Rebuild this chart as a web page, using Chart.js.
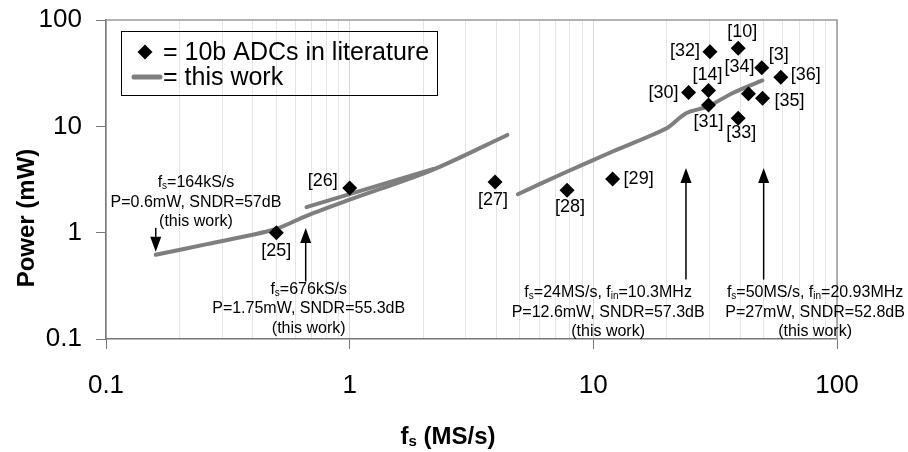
<!DOCTYPE html>
<html>
<head>
<meta charset="utf-8">
<script src="https://cdn.jsdelivr.net/npm/chart.js@4.4.0/dist/chart.umd.min.js"></script>
<style>
  html, body { margin: 0; padding: 0; background: #fff; }
  #wrap { width: 908px; height: 452px; position: relative; }
</style>
</head>
<body>
<div id="wrap"><canvas id="chart" width="908" height="452"></canvas></div>
<script>
// 10b ADCs in literature (fs in MS/s, power in mW)
const litRefs  = ['[25]', '[26]', '[27]', '[28]', '[29]', '[30]', '[14]', '[31]', '[32]', '[10]', '[33]', '[3]', '[34]', '[35]', '[36]'];
const litFs    = [0.5, 1.0, 3.95, 7.8, 12, 24.6, 29.7, 29.7, 30.1, 39.3, 39.3, 49.1, 43.3, 49.5, 58.8];
const litPower = [1.0, 2.63, 3.0, 2.5, 3.2, 20.8, 21.7, 15.9, 50.4, 54.2, 11.9, 35.6, 20.2, 18.4, 29.0];

// this work: three measured sweeps
const sweepA_fs = [0.16, 0.26, 0.49, 0.665, 1.0, 2.19, 4.44];
const sweepA_p  = [0.62, 0.78, 1.07, 1.44, 2.04, 3.9, 8.3];
const sweepB_fs = [0.665, 2.19];
const sweepB_p  = [1.74, 3.96];
const sweepC_fs = [4.9, 7.7, 12, 20, 23, 25, 29.4, 37.2, 49.4];
const sweepC_p  = [2.3, 3.7, 5.8, 9.6, 12.4, 13.8, 15.3, 20.5, 27];

const xTickLabels = ['0.1', '1', '10', '100'];
const yTickLabels = ['0.1', '1', '10', '100'];

// callouts: arrow at fs, from power -> to power, text block anchored at (tx, ty)
const notes = [
  { x: 0.16, from: 1.11, to: 0.66, tx: 0.234, ty: 2.94,
    lines: ['f_{s}=164kS/s', 'P=0.6mW, SNDR=57dB', '(this work)'] },
  { x: 0.66, from: 0.347, to: 1.106, tx: 0.679, ty: 0.292,
    lines: ['f_{s}=676kS/s', 'P=1.75mW, SNDR=55.3dB', '(this work)'] },
  { x: 24, from: 0.362, to: 4.05, tx: 11.5, ty: 0.273,
    lines: ['f_{s}=24MS/s, f_{in}=10.3MHz', 'P=12.6mW, SNDR=57.3dB', '(this work)'] },
  { x: 50, from: 0.362, to: 4.05, tx: 81.3, ty: 0.273,
    lines: ['f_{s}=50MS/s, f_{in}=20.93MHz', 'P=27mW, SNDR=52.8dB', '(this work)'] }
];

// where each reference tag sits relative to its diamond (px)
const tagOffsets = {
  '[25]': [0, 18], '[26]': [-27, -7], '[27]': [-2, 18], '[28]': [3, 17], '[29]': [26, 0],
  '[30]': [-25, 1], '[14]': [-1, -16], '[31]': [0, 17], '[32]': [-25, -1], '[10]': [4, -16],
  '[33]': [3, 15], '[3]': [17, -13], '[34]': [-9, -27], '[35]': [27, 3], '[36]': [25, -2]
};

const FONT = '"Liberation Sans", Arial, sans-serif';
const LINE_GREY = '#7f7f7f';
const AXIS_GREY = '#777777';

const xDecades = xTickLabels.map(Number);
const yDecades = yTickLabels.map(Number);
const xTickVals = [];
xDecades.forEach((d, i) => {
  xTickVals.push(d);
  if (i < xDecades.length - 1) for (let k = 2; k <= 9; k++) xTickVals.push(d * k);
});
const isDecade = v => xDecades.some(d => Math.abs(v - d) < 1e-9);

function pts(xs, ys) { return xs.map((x, i) => ({ x: x, y: ys[i] })); }

// draw text with _{...} subscripts, centred on cx
function richText(ctx, str, cx, cy, size, bold) {
  const parts = [];
  str.split(/(_\{[^}]*\})/).forEach(p => {
    if (!p) return;
    if (p.startsWith('_{')) parts.push({ t: p.slice(2, -1), sub: true });
    else parts.push({ t: p, sub: false });
  });
  const w = bold ? 'bold ' : '';
  const subSize = Math.round(size * 0.62);
  let total = 0;
  parts.forEach(p => {
    ctx.font = w + (p.sub ? subSize : size) + 'px ' + FONT;
    p.w = ctx.measureText(p.t).width;
    total += p.w;
  });
  let x = cx - total / 2;
  ctx.textAlign = 'left';
  ctx.textBaseline = 'middle';
  parts.forEach(p => {
    ctx.font = w + (p.sub ? subSize : size) + 'px ' + FONT;
    ctx.fillText(p.t, x, p.sub ? cy + size * 0.22 : cy);
    x += p.w;
  });
}

function diamond(ctx, x, y, r) {
  ctx.beginPath();
  ctx.moveTo(x, y - r);
  ctx.lineTo(x + r, y);
  ctx.lineTo(x, y + r);
  ctx.lineTo(x - r, y);
  ctx.closePath();
  ctx.fill();
}

const extras = {
  id: 'extras',
  beforeDatasetsDraw(chart) {
    const { ctx, chartArea: a } = chart;
    ctx.save();
    ctx.strokeStyle = '#9a9a9a';
    ctx.lineWidth = 1.5;
    ctx.beginPath();
    ctx.moveTo(a.left, a.top);
    ctx.lineTo(a.right, a.top);
    ctx.lineTo(a.right, a.bottom);
    ctx.stroke();
    ctx.restore();
  },
  afterDraw(chart) {
    const { ctx, scales: { x: xs, y: ys } } = chart;
    ctx.save();
    ctx.fillStyle = '#000';

    // reference tags
    const meta = chart.getDatasetMeta(0);
    ctx.font = '18px ' + FONT;
    ctx.textAlign = 'center';
    ctx.textBaseline = 'middle';
    meta.data.forEach((el, i) => {
      const tag = litRefs[i];
      const off = tagOffsets[tag] || [0, 0];
      ctx.fillText(tag, el.x + off[0], el.y + off[1]);
    });

    // callout arrows and texts
    notes.forEach(n => {
      const px = xs.getPixelForValue(n.x);
      const y0 = ys.getPixelForValue(n.from);
      const y1 = ys.getPixelForValue(n.to);
      const dir = y1 > y0 ? 1 : -1;
      const head = 15;
      ctx.strokeStyle = '#000';
      ctx.lineWidth = 1.5;
      ctx.beginPath();
      ctx.moveTo(px, y0);
      ctx.lineTo(px, y1 - dir * head);
      ctx.stroke();
      ctx.beginPath();
      ctx.moveTo(px, y1);
      ctx.lineTo(px - 5.5, y1 - dir * head);
      ctx.lineTo(px + 5.5, y1 - dir * head);
      ctx.closePath();
      ctx.fill();

      const tx = xs.getPixelForValue(n.tx);
      const ty = ys.getPixelForValue(n.ty);
      n.lines.forEach((ln, k) => richText(ctx, ln, tx, ty + k * 19.5, 16, false));
    });

    // legend box
    ctx.strokeStyle = '#000';
    ctx.lineWidth = 1;
    ctx.strokeRect(121.5, 31.5, 316, 64);
    diamond(ctx, 145, 52, 7.5);
    ctx.font = '25px ' + FONT;
    ctx.textAlign = 'left';
    ctx.textBaseline = 'middle';
    ctx.fillText('= ' + chart.data.datasets[0].label, 163, 53);
    ctx.strokeStyle = LINE_GREY;
    ctx.lineWidth = 5;
    ctx.lineCap = 'round';
    ctx.beginPath();
    ctx.moveTo(134, 77);
    ctx.lineTo(160, 77);
    ctx.stroke();
    ctx.fillText('= ' + chart.data.datasets[1].label, 163, 78);

    // axis titles
    ctx.save();
    ctx.translate(27, 218);
    ctx.rotate(-Math.PI / 2);
    richText(ctx, 'Power (mW)', 0, 0, 24, true);
    ctx.restore();
    richText(ctx, 'f_{s} (MS/s)', 448, 437, 24, true);

    ctx.restore();
  }
};

const lineStyle = {
  showLine: true,
  borderColor: LINE_GREY,
  backgroundColor: LINE_GREY,
  borderWidth: 4,
  pointRadius: 0,
  tension: 0.3,
  borderCapStyle: 'round'
};

new Chart(document.getElementById('chart'), {
  type: 'scatter',
  data: {
    datasets: [
      { label: '10b ADCs in literature', data: pts(litFs, litPower),
        pointStyle: 'rectRot', pointRadius: 7.5, pointHoverRadius: 7.5,
        backgroundColor: '#000', borderColor: '#000', borderWidth: 0 },
      Object.assign({ label: 'this work', data: pts(sweepA_fs, sweepA_p) }, lineStyle),
      Object.assign({ label: 'this work', data: pts(sweepB_fs, sweepB_p) }, lineStyle),
      Object.assign({ label: 'this work', data: pts(sweepC_fs, sweepC_p) }, lineStyle)
    ]
  },
  options: {
    responsive: false,
    animation: false,
    events: [],
    layout: { padding: { top: 20, right: 71, left: 0, bottom: 0 } },
    plugins: { legend: { display: false }, tooltip: { enabled: false } },
    scales: {
      x: {
        type: 'logarithmic', min: 0.1, max: 100,
        afterBuildTicks: s => { s.ticks = xTickVals.map(v => ({ value: v, major: isDecade(v) })); },
        afterFit: s => { s.height = 113; s.paddingLeft = 0; s.paddingRight = 0; },
        border: { color: AXIS_GREY, width: 1.5 },
        grid: {
          color: c => (c.tick && isDecade(c.tick.value)) ? '#d6d6d6' : '#e6e6e6',
          tickColor: c => (c.tick && isDecade(c.tick.value)) ? AXIS_GREY : 'rgba(0,0,0,0)',
          tickLength: 10, lineWidth: 1
        },
        ticks: {
          autoSkip: false, maxRotation: 0, padding: 21, color: '#000',
          font: { family: FONT, size: 26 },
          callback: v => {
            const i = xDecades.findIndex(d => Math.abs(v - d) < 1e-9);
            return i >= 0 ? xTickLabels[i] : '';
          }
        }
      },
      y: {
        type: 'logarithmic', min: 0.1, max: 100,
        afterBuildTicks: s => { s.ticks = yDecades.map(v => ({ value: v, major: true })); },
        afterFit: s => { s.width = 106; s.paddingTop = 0; s.paddingBottom = 0; },
        border: { color: AXIS_GREY, width: 1.5 },
        grid: { drawOnChartArea: false, tickColor: AXIS_GREY, tickLength: 10 },
        ticks: {
          padding: 14, color: '#000',
          font: { family: FONT, size: 26 },
          callback: v => {
            const i = yDecades.findIndex(d => Math.abs(v - d) < 1e-9);
            return i >= 0 ? yTickLabels[i] : '';
          }
        }
      }
    }
  },
  plugins: [extras]
});
</script>
</body>
</html>
